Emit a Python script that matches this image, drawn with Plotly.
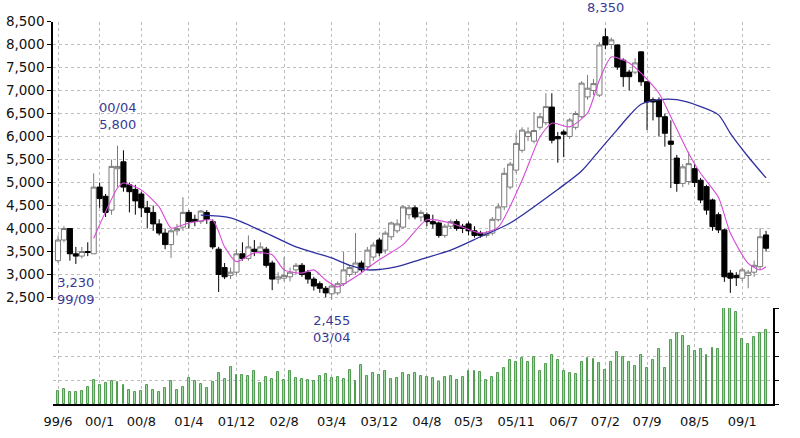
import plotly.graph_objects as go

# month index 0 = 1999/06 ... 119 = 2009/05
month_index = list(range(120))

open_ = [3300, 3750, 4000, 3450, 3400, 3500, 3450, 4900, 4700, 4400,
         5300, 5450, 4950, 4850, 4750, 4450, 4350, 4100, 3900, 3650,
         3950, 4030, 4350, 4200, 4150, 4350, 4150, 3550, 3150, 2980,
         3050, 3450, 3350, 3550, 3500, 3550, 3250, 2900, 2920, 2950,
         3100, 3200, 3050, 2900, 2800, 2700, 2580, 2600, 2800, 3000,
         3050, 3250, 3170, 3380, 3750, 3530, 3820, 3950, 4030, 4300,
         4450, 4250, 4300, 4150, 4120, 3850, 4050, 4150, 4050, 4100,
         3950, 3900, 3850, 3900, 4190, 4470, 4900, 5270, 5700, 6000,
         5900, 6200, 6300, 6640, 6000, 6100, 6000, 6200, 6430, 6860,
         7000, 6900, 8170, 8000, 7990, 7660, 7400, 7400, 7840, 7190,
         6800, 6790, 6430, 5900, 5530, 4980, 5020, 5300, 5050, 4910,
         4620, 4300, 3970, 3030, 2980, 2920, 2980, 3050, 3170, 3860]
high = [3850, 4050, 4000, 3600, 3600, 3700, 5200, 5000, 4750, 5500,
        5800, 5700, 5000, 4950, 4800, 4600, 4500, 4200, 4000, 4000,
        4100, 4680, 4400, 4300, 4400, 4400, 4200, 3600, 3250, 3150,
        3550, 3700, 3850, 3750, 3700, 3600, 3300, 3050, 3380, 3150,
        3250, 3250, 3100, 2950, 2850, 2750, 2800, 2850, 3490, 3200,
        3900, 3300, 3600, 3700, 3800, 3950, 4150, 4200, 4500, 4500,
        4500, 4400, 4350, 4300, 4150, 4100, 4200, 4200, 4100, 4150,
        4050, 3950, 3950, 4250, 4550, 5320, 5450, 6070, 6200, 6200,
        6530, 6500, 6940, 6940, 6100, 6150, 6400, 6550, 7200, 7340,
        7250, 8050, 8350, 8150, 8000, 7700, 7450, 7700, 7850, 7200,
        6850, 6850, 6500, 6350, 5600, 5400, 5670, 5400, 5100, 4950,
        4650, 4350, 4000, 3100, 3050, 3150, 3100, 3300, 4010, 3950]
low = [3250, 3700, 3300, 3230, 3350, 3400, 3450, 4450, 4250, 4300,
       4900, 4800, 4350, 4300, 4250, 4000, 3950, 3850, 3550, 3360,
       3850, 3950, 4000, 4050, 4100, 4100, 3550, 2620, 2900, 2900,
       3000, 3300, 3300, 3400, 3450, 3150, 2660, 2800, 2850, 2850,
       3000, 2950, 2800, 2650, 2600, 2500, 2455, 2550, 2750, 2950,
       3000, 3050, 3100, 3300, 3400, 3450, 3750, 3900, 4000, 4200,
       4200, 4150, 4050, 4000, 3800, 3800, 4000, 3950, 3900, 3850,
       3800, 3800, 3800, 3850, 4150, 4400, 4850, 5200, 5650, 5900,
       5850, 6150, 6250, 5850, 5430, 5550, 5950, 6150, 6400, 6800,
       6900, 6860, 7900, 7900, 7450, 7080, 7000, 7350, 7100, 6140,
       6350, 6000, 5780, 4880, 4800, 4900, 4950, 4900, 4550, 4300,
       3950, 3900, 2840, 2600, 2750, 2850, 2700, 2950, 3100, 3500]
close = [3750, 4000, 3450, 3400, 3500, 3480, 4900, 4650, 4350, 5350,
         5350, 4900, 4800, 4600, 4450, 4350, 4100, 3900, 3650, 3950,
         4000, 4350, 4150, 4150, 4380, 4200, 3600, 3000, 2950, 3050,
         3450, 3350, 3600, 3500, 3600, 3200, 2900, 2950, 2980, 3050,
         3200, 3000, 2900, 2750, 2700, 2600, 2750, 2800, 3100, 3150,
         3250, 3100, 3530, 3640, 3470, 3900, 4120, 4100, 4470, 4450,
         4250, 4350, 4150, 4100, 3850, 4050, 4150, 4000, 4000, 3950,
         3850, 3850, 3900, 4200, 4470, 5200, 5400, 5850, 6140, 6100,
         6130, 6430, 6650, 5920, 5950, 6050, 6360, 6500, 7160, 7050,
         7150, 7990, 7990, 8100, 7510, 7300, 7300, 7600, 7190, 6750,
         6750, 6430, 6070, 5830, 4980, 5340, 5410, 5000, 4620, 4400,
         4040, 3970, 2950, 2920, 2930, 3100, 3050, 3200, 3820, 3570]
volume = [14, 16, 13, 13, 14, 18, 25, 20, 22, 24,
          23, 20, 15, 13, 14, 20, 15, 12, 17, 24,
          15, 18, 27, 24, 21, 17, 23, 32, 26, 39,
          30, 30, 29, 34, 22, 28, 26, 33, 25, 34,
          27, 26, 25, 24, 29, 31, 27, 28, 26, 35,
          24, 41, 29, 32, 30, 34, 26, 27, 32, 30,
          32, 29, 28, 27, 23, 28, 29, 25, 28, 34,
          34, 33, 25, 28, 32, 37, 46, 44, 48, 44,
          49, 34, 42, 51, 46, 34, 32, 31, 44, 48,
          47, 43, 35, 44, 54, 49, 44, 40, 51, 38,
          46, 57, 38, 67, 74, 71, 60, 55, 57, 51,
          58, 57, 100, 100, 96, 68, 62, 70, 74, 77]

ma_long_month = [24, 29, 35, 40, 46, 49, 52, 57, 61, 66, 71, 76, 84, 88,
                 91, 94, 96, 98, 101, 104, 108, 111, 113, 116, 119]
ma_long = [4290, 4230, 3900, 3600, 3360, 3200, 3100, 3170, 3330, 3530,
           3820, 4120, 4850, 5250, 5700, 6150, 6450, 6700, 6800, 6800,
           6650, 6470, 6070, 5560, 5100]
ma_short_month = [6, 10, 11, 14, 17, 19, 22, 26, 28, 30, 33, 36, 38, 41,
                  43, 45, 47, 50, 54, 58, 62, 66, 71, 74, 78, 81, 83, 86,
                  89, 91, 93, 96, 98, 101, 103, 106, 108, 111, 113, 116,
                  118, 119]
ma_short = [3790, 4880, 4990, 4840, 4470, 4010, 4120, 4180, 3600, 3280,
            3470, 3430, 3100, 3030, 3100, 2880, 2730, 2950, 3320, 3650,
            4190, 4120, 3900, 4030, 5050, 5990, 6290, 6210, 6510, 7230,
            7730, 7600, 7380, 6940, 6430, 5630, 5200, 4680, 3900, 3240,
            3100, 3170]

tick_months = [0, 7, 14, 22, 30, 38, 46, 54, 62, 69, 77, 85, 92, 99, 107, 115]
tick_labels = ["99/6", "00/1", "00/8", "01/4", "01/12", "02/8", "03/4", "03/12",
               "04/8", "05/3", "05/11", "06/7", "07/2", "07/9", "08/5", "09/1"]
price_ticks = [2500, 3000, 3500, 4000, 4500, 5000, 5500, 6000, 6500, 7000,
               7500, 8000, 8500]
volume_ticks = [0, 25, 50, 75, 100]

notes_month = [10, 3, 46, 92]
notes_text = ["00/04<br>5,800", "3,230<br>99/09", "2,455<br>03/04", "8,350"]
notes_ypx = [116, 291, 329, 7]

W, H = 800, 438
def py(px):
    return 1 - px / H

FONT = "DejaVu Sans"
grid_col = "#bdbdbd"
grid_dash = "3px,3px"

fig = go.Figure()
fig.add_trace(go.Bar(
    x=month_index, y=volume, xaxis="x2", yaxis="y2", width=0.32,
    marker=dict(color="#a4dca4", line=dict(color="#3f8f3f", width=0.9)),
    showlegend=False, hoverinfo="skip"))
fig.add_trace(go.Candlestick(
    x=month_index, open=open_, high=high, low=low, close=close,
    xaxis="x", yaxis="y", whiskerwidth=0,
    increasing=dict(line=dict(color="#7a7a7a", width=1), fillcolor="#ffffff"),
    decreasing=dict(line=dict(color="#000000", width=1), fillcolor="#000000"),
    showlegend=False))
fig.add_trace(go.Scatter(
    x=ma_long_month, y=ma_long, mode="lines", xaxis="x", yaxis="y",
    line=dict(color="#2f2fa0", width=1.3, shape="spline", smoothing=0.8),
    showlegend=False, hoverinfo="skip"))
fig.add_trace(go.Scatter(
    x=ma_short_month, y=ma_short, mode="lines", xaxis="x", yaxis="y",
    line=dict(color="#d84ad8", width=1.1, shape="spline", smoothing=0.6),
    showlegend=False, hoverinfo="skip"))

xdom = [53 / W, 773 / W]
xr = [-0.84, 120.17]

annotations = []
for m, t, ypx in zip(notes_month, notes_text, notes_ypx):
    annotations.append(dict(
        x=m, xref="x", y=py(ypx), yref="paper", text=t, showarrow=False,
        xanchor="center", yanchor="middle",
        font=dict(family=FONT, size=13, color="#3a3a96")))

fig.update_layout(
    width=W, height=H, margin=dict(l=0, r=0, t=0, b=0, autoexpand=False),
    paper_bgcolor="white", plot_bgcolor="white",
    boxgap=0.1, boxgroupgap=0.05, bargap=0, showlegend=False,
    font=dict(family=FONT, size=13, color="#111111"),
    xaxis=dict(domain=xdom, range=xr, anchor="y", tickvals=tick_months,
               showticklabels=False, showgrid=True, gridcolor=grid_col,
               griddash=grid_dash, gridwidth=1, zeroline=False, ticks="",
               automargin=False, rangeslider=dict(visible=False)),
    yaxis=dict(domain=[py(300.26), py(21.5)], range=[2440, 8500], anchor="x",
               tickvals=price_ticks, tickformat=",d", showline=True,
               linecolor="black", linewidth=1.5, ticks="outside", ticklen=4,
               tickcolor="black", showgrid=True, gridcolor=grid_col,
               griddash=grid_dash, zeroline=False, automargin=False,
               tickfont=dict(family=FONT, size=13.5, color="#111111")),
    xaxis2=dict(domain=xdom, range=xr, anchor="y2", tickvals=tick_months,
                ticktext=tick_labels, showgrid=True, gridcolor=grid_col,
                griddash=grid_dash, showline=True, linecolor="black",
                linewidth=1.5, ticks="", zeroline=False, ticklabelstandoff=5,
                automargin=False,
                tickfont=dict(family=FONT, size=13, color="#111111")),
    yaxis2=dict(domain=[py(404), py(308)], range=[0, 100], anchor="x2",
                side="right", tickvals=volume_ticks, showticklabels=False,
                showline=True, linecolor="black", linewidth=1.5,
                ticks="outside", ticklen=4, tickcolor="black",
                showgrid=True, gridcolor=grid_col, griddash=grid_dash,
                zeroline=False, automargin=False),
    annotations=annotations,
)

fig.write_html(
    "out.html",
    config={"displayModeBar": False},
    post_script="document.body.style.margin='0px';document.body.style.overflow='hidden';",
)
